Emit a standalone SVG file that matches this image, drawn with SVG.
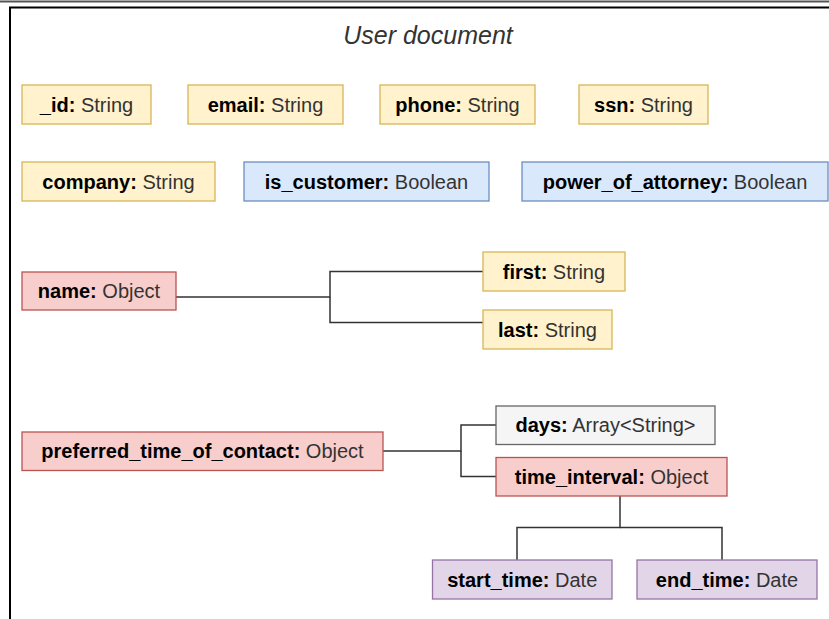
<svg xmlns="http://www.w3.org/2000/svg" width="829" height="619" viewBox="0 0 829 619">
<style>
  text { font-family: "Liberation Sans", Arial, Helvetica, sans-serif; font-size: 20px; fill: #333333; }
  .b { font-weight: bold; fill: #000000; }
  .title { font-size: 25px; font-style: italic; fill: #333333; }
  .yel { fill: #fff2cc; stroke: #d6b656; stroke-width: 1.3; }
  .blu { fill: #dae8fc; stroke: #6c8ebf; stroke-width: 1.3; }
  .red { fill: #f8cecc; stroke: #b85450; stroke-width: 1.3; }
  .gry { fill: #f5f5f5; stroke: #666666; stroke-width: 1.3; }
  .pur { fill: #e1d5e7; stroke: #9673a6; stroke-width: 1.3; }
  .conn { fill: none; stroke: #333333; stroke-width: 1.5; }
</style>
<rect x="0" y="0" width="829" height="619" fill="#ffffff"/>
<g id="frame">
  <line x1="0" y1="1.5" x2="829" y2="1.5" stroke="#555555" stroke-width="2"/>
  <line x1="9" y1="7.5" x2="829" y2="7.5" stroke="#000000" stroke-width="2"/>
  <line x1="10" y1="7" x2="10" y2="619" stroke="#000000" stroke-width="2"/>
</g>
<g id="title"><text class="title" x="428" y="44" text-anchor="middle">User document</text></g>

<g id="connectors">
  <path class="conn" d="M176 297 H330 V271.5 H483"/>
  <path class="conn" d="M330 297 V322.5 H483"/>
  <path class="conn" d="M383 451 H461 V425 H496"/>
  <path class="conn" d="M461 451 V476.5 H496"/>
  <path class="conn" d="M620 496 V527.5 H517 V560"/>
  <path class="conn" d="M620 527.5 H722 V560"/>
</g>

<g id="n_id"><rect class="yel" x="22" y="85" width="129" height="39"/><text x="86.5" y="111.5" text-anchor="middle"><tspan class="b">_id:</tspan> String</text></g>
<g id="n_email"><rect class="yel" x="188" y="85" width="155" height="39"/><text x="265.5" y="111.5" text-anchor="middle"><tspan class="b">email:</tspan> String</text></g>
<g id="n_phone"><rect class="yel" x="380" y="85" width="155" height="39"/><text x="457.5" y="111.5" text-anchor="middle"><tspan class="b">phone:</tspan> String</text></g>
<g id="n_ssn"><rect class="yel" x="579" y="85" width="129" height="39"/><text x="643.5" y="111.5" text-anchor="middle"><tspan class="b">ssn:</tspan> String</text></g>

<g id="n_company"><rect class="yel" x="22" y="162" width="193" height="39"/><text x="118.5" y="188.5" text-anchor="middle"><tspan class="b">company:</tspan> String</text></g>
<g id="n_is_customer"><rect class="blu" x="244" y="162" width="245" height="39"/><text x="366.5" y="188.5" text-anchor="middle"><tspan class="b">is_customer:</tspan> Boolean</text></g>
<g id="n_power"><rect class="blu" x="522" y="162" width="306" height="39"/><text x="675" y="188.5" text-anchor="middle"><tspan class="b">power_of_attorney:</tspan> Boolean</text></g>

<g id="n_name"><rect class="red" x="22" y="272" width="154" height="38"/><text x="99" y="298" text-anchor="middle"><tspan class="b">name:</tspan> Object</text></g>
<g id="n_first"><rect class="yel" x="483" y="252" width="142" height="39"/><text x="554" y="278.5" text-anchor="middle"><tspan class="b">first:</tspan> String</text></g>
<g id="n_last"><rect class="yel" x="483" y="310" width="129" height="39"/><text x="547.5" y="336.5" text-anchor="middle"><tspan class="b">last:</tspan> String</text></g>

<g id="n_preferred"><rect class="red" x="22" y="432" width="361" height="38.5"/><text x="202.5" y="458" text-anchor="middle"><tspan class="b">preferred_time_of_contact:</tspan> Object</text></g>
<g id="n_days"><rect class="gry" x="496" y="406" width="219" height="38.5"/><text x="605.5" y="432" text-anchor="middle"><tspan class="b">days:</tspan> Array&lt;String&gt;</text></g>
<g id="n_time_interval"><rect class="red" x="496" y="457.5" width="231" height="38.5"/><text x="611.5" y="483.5" text-anchor="middle"><tspan class="b">time_interval:</tspan> Object</text></g>
<g id="n_start"><rect class="pur" x="432.5" y="560" width="179.5" height="39"/><text x="522.25" y="586.5" text-anchor="middle"><tspan class="b">start_time:</tspan> Date</text></g>
<g id="n_end"><rect class="pur" x="637" y="560" width="180" height="39"/><text x="727" y="586.5" text-anchor="middle"><tspan class="b">end_time:</tspan> Date</text></g>
</svg>
